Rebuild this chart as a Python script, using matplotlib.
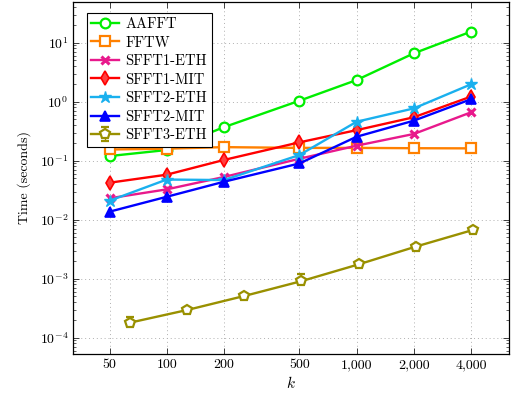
import matplotlib
matplotlib.use("Agg")
import matplotlib.pyplot as plt
from matplotlib.ticker import FixedLocator, FixedFormatter, LogLocator, NullFormatter, NullLocator

plt.rcParams['font.family'] = ['cmr10', 'DejaVu Serif']
plt.rcParams['mathtext.fontset'] = 'cm'
plt.rcParams['axes.formatter.use_mathtext'] = True
plt.rcParams['axes.unicode_minus'] = False

k = [50, 100, 200, 500, 1000, 2000, 4000]
k3 = [64, 128, 256, 512, 1024, 2048, 4096]

aafft = [0.12, 0.152, 0.37, 1.04, 2.33, 6.6, 15.4]
fftw = [0.155, 0.16, 0.17, 0.165, 0.165, 0.163, 0.162]
sfft1_eth = [0.0231, 0.0327, 0.053, 0.108, 0.18, 0.284, 0.66]
sfft1_mit = [0.0424, 0.058, 0.103, 0.205, 0.33, 0.545, 1.22]
sfft2_eth = [0.021, 0.048, 0.047, 0.125, 0.458, 0.77, 1.97]
sfft2_mit = [0.0137, 0.0245, 0.044, 0.09, 0.255, 0.477, 1.1]
sfft3_eth = [1.8e-4, 2.95e-4, 5.1e-4, 9.1e-4, 1.75e-3, 3.5e-3, 6.7e-3]
sfft3_err_lo = [0.1e-4, 0.1e-4, 0.2e-4, 0.3e-4, 0.5e-4, 1e-4, 1.5e-4]
sfft3_err_hi = [0.45e-4, 0.1e-4, 0.2e-4, 2.9e-4, 0.5e-4, 1e-4, 1.5e-4]

xtick_vals = [50, 100, 200, 500, 1000, 2000, 4000]
xtick_labels = ["50", "100", "200", "500", "1,000", "2,000", "4,000"]

fig = plt.figure(figsize=(5.13, 3.93), dpi=100)
ax = fig.add_axes([73.3/513, 39/393, (509-73.3)/513, (354-2)/393])

lw = 1.7
ax.plot(k, aafft, color='#00ee00', lw=lw, marker='o', ms=7, mfc='white', mew=1.6, label='AAFFT', zorder=3)
ax.plot(k, fftw, color='#ff8000', lw=lw, marker='s', ms=7, mfc='white', mew=1.6, label='FFTW', zorder=3)
ax.plot(k, sfft1_eth, color='#e8198c', lw=lw, marker='x', ms=6, mew=2.2, label='SFFT1-ETH', zorder=3)
ax.plot(k, sfft1_mit, color='#ff0000', lw=lw, marker='d', ms=7, mfc='#ff4040', mew=1.2, label='SFFT1-MIT', zorder=3)
ax.plot(k, sfft2_eth, color='#1ab0ee', lw=lw, marker='*', ms=9, mew=1.0, label='SFFT2-ETH', zorder=3)
ax.plot(k, sfft2_mit, color='#0000ff', lw=lw, marker='^', ms=7, mew=1.2, label='SFFT2-MIT', zorder=3)
ax.errorbar(k3, sfft3_eth, yerr=[sfft3_err_lo, sfft3_err_hi], color='#999000', lw=lw, marker='p', ms=7,
            mfc='white', mew=1.6, capsize=3, elinewidth=1.0, label='SFFT3-ETH', zorder=3)

ax.set_xscale('log')
ax.set_yscale('log')
ax.set_xlim(32.2, 6350)
ax.set_ylim(5.3e-5, 49)

ax.xaxis.set_major_locator(FixedLocator(xtick_vals))
ax.xaxis.set_major_formatter(FixedFormatter(xtick_labels))
ax.xaxis.set_minor_locator(NullLocator())
ax.yaxis.set_major_locator(LogLocator(base=10, numticks=20))
ax.yaxis.set_minor_locator(LogLocator(base=10, subs=range(2, 10), numticks=20))
ax.yaxis.set_minor_formatter(NullFormatter())

ax.tick_params(which='both', direction='in', top=True, right=True, labelsize=10, colors='#222222')
ax.tick_params(which='major', length=4, width=0.6)
ax.tick_params(which='minor', length=2.5, width=0.5)
for lab in ax.get_xticklabels() + ax.get_yticklabels():
    lab.set_color('black')

ax.grid(True, which='major', linestyle=(0, (1, 3)), color='#b0b0b0', lw=0.7)
for s in ax.spines.values():
    s.set_linewidth(0.9)

ax.set_xlabel('$k$', fontsize=11, labelpad=3)
ax.set_ylabel('Time (seconds)', fontsize=10, labelpad=6)

leg = ax.legend(loc='upper left', bbox_to_anchor=(0.031, 0.969), borderaxespad=0, fontsize=10.5,
                frameon=True, fancybox=False, edgecolor='black', framealpha=1, borderpad=0.3,
                labelspacing=0.33, handlelength=1.9, handletextpad=0.45)
leg.get_frame().set_linewidth(0.8)

fig.savefig('out.png', dpi=100)
